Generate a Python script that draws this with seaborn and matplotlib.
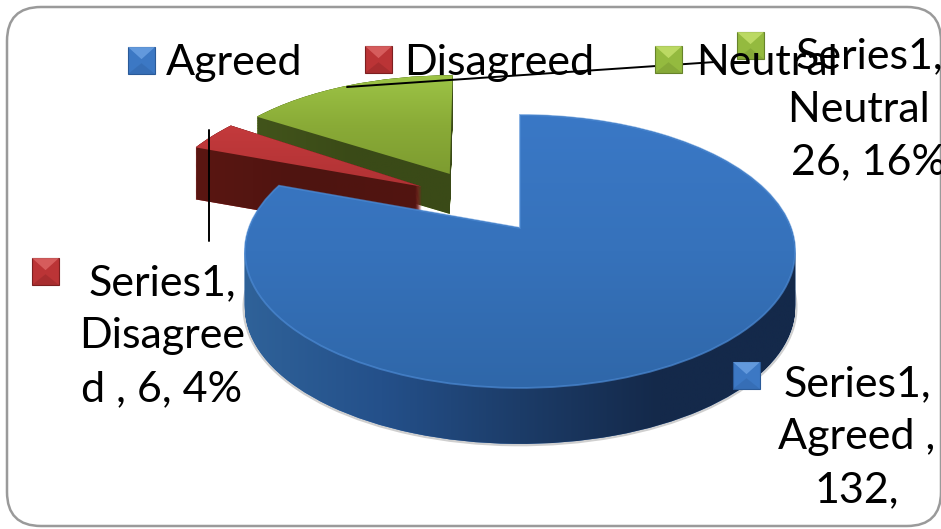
import numpy as np
import matplotlib
matplotlib.use("Agg")
import matplotlib.pyplot as plt
import seaborn as sns
from matplotlib.path import Path
from matplotlib.patches import FancyBboxPatch, Rectangle, Polygon, PathPatch
from matplotlib.transforms import Transform
from matplotlib.colors import LinearSegmentedColormap

categories = ["Agreed", "Disagreed", "Neutral"]
values = [132, 6, 26]
explode = [0.0, 0.52, 0.50]
label_blue = "Series1,\nAgreed ,\n132,"
label_red = "Series1,\nDisagree\nd , 6, 4%"
label_green = "Series1,\nNeutral ,\n26, 16%"

palette = ["#3872bd", "#bb3436", "#94ba3f"]

sns.set_theme(style="white")
plt.rcParams["font.family"] = ["Lato", "DejaVu Sans"]

W, H = 941, 529
fig = plt.figure(figsize=(W / 100, H / 100), dpi=100)
ax = fig.add_axes([0, 0, 1, 1])


class Projection(Transform):
    input_dims = 2
    output_dims = 2
    is_separable = False
    has_inverse = False

    def __init__(self, drop=0.0, dx=0.0, dy=0.0, shear=0.0):
        super().__init__()
        self.drop, self.dx, self.dy, self.shear = drop, dx, dy, shear

    def transform_non_affine(self, xy):
        xy = np.asarray(xy, float)
        w = 1 + 0.172 * xy[:, 1]
        Y = 228 - 132.4 * xy[:, 1] / w
        X = 520 + 271 * xy[:, 0] / w + self.dx + self.shear * (Y - 175)
        return np.column_stack([X, Y + self.dy + self.drop])


def pie_layer(colors):
    wedges, _ = ax.pie(values, explode=explode, startangle=90, counterclock=False,
                       colors=colors, radius=1, wedgeprops=dict(linewidth=0))
    return wedges


def gradient(path, stops, horizontal, zorder):
    cmap = LinearSegmentedColormap.from_list("g", stops)
    v = path.vertices
    l, r, t, b = v[:, 0].min(), v[:, 0].max(), v[:, 1].min(), v[:, 1].max()
    g = np.linspace(0, 1, 256)
    arr = g[None, :] if horizontal else g[:, None]
    im = ax.imshow(arr, cmap=cmap, extent=(l, r, b, t), origin="upper", aspect="auto", zorder=zorder,
                   interpolation="bilinear")
    im.set_clip_path(path, ax.transData)


depths = [56, 52, 40]
nudges = [dict(), dict(dx=23, dy=-12), dict(dx=-10, shear=0.055)]
side_stops = [["#2f6299", "#24508a", "#1c3c68", "#14294a", "#14294a"],
              ["#5a1612", "#4e1410", "#521510"],
              ["#42541b", "#3a4a17", "#3a4a18"]]
top_stops = [["#3a78c6", "#3672bb", "#2f67a9"],
             ["#c43a3c", "#b03234"],
             ["#9dc446", "#8aab37", "#7d9c30"]]
order_z = {2: 2, 1: 4, 0: 6}

side_paths = [[], [], []]
for f in np.linspace(1, 0, 57):
    wedges = pie_layer(palette)
    for i, w in enumerate(wedges):
        T = Projection(depths[i] * f, **nudges[i])
        w.set_transform(T + ax.transData)
        w.set_zorder(order_z[i])
        side_paths[i].append(T.transform_path(w.get_path()))

for i in range(3):
    compound = Path.make_compound_path(*side_paths[i])
    gradient(compound, side_stops[i], True, order_z[i] + 0.2)
    gradient(side_paths[i][-1], top_stops[i], False, order_z[i] + 0.5)

# soft shadow under the blue slice (outer arc only), light rim on its top face
shadow = PathPatch(side_paths[0][0], fc="none", ec="#777777", lw=3.5, alpha=0.35, zorder=5.8)
ax.add_patch(shadow)
shadow.set_clip_path(Rectangle((0, 290), W, H - 290, transform=ax.transData))
ax.add_patch(PathPatch(side_paths[0][-1], fc="none", ec="#4c8ad4", lw=1.3, alpha=0.7, zorder=6.7))


def swatch(x, y, c, hi, lo, s=27):
    ax.add_patch(Rectangle((x, y), s, s, fc=c, ec=lo, lw=0.8, zorder=9))
    ax.add_patch(Polygon([(x, y), (x + s, y), (x + s * .5, y + s * .45)], fc=hi, alpha=.75, lw=0, zorder=9.1))
    ax.add_patch(Polygon([(x, y + s), (x + s, y + s), (x + s * .5, y + s * .6)], fc=lo, alpha=.3, lw=0, zorder=9.1))


sw = [("#3c78c4", "#6fa5e6", "#2a5a98"), ("#bb3436", "#e06a6a", "#7d1f20"), ("#94ba3f", "#c9e470", "#66832a")]
for (x, y), s_ in zip([(128, 47), (365, 46), (655, 46)], sw):
    swatch(x, y, *s_)
swatch(733, 362, *sw[0])
swatch(32, 258, *sw[1])
swatch(737, 32, *sw[2])

fs = 31
for x, t in zip([166, 404, 696], categories):
    ax.text(x, 63, t, fontsize=fs, color="black", va="center", ha="left", zorder=10)

for (x, y), t in zip([(857, 437), (162, 336), (869, 109)], [label_blue, label_red, label_green]):
    ax.text(x, y, t, fontsize=fs, color="black", va="center", ha="center", multialignment="center",
            linespacing=1.48, zorder=10)

ax.plot([347, 715], [87, 62], color="black", lw=1.4, zorder=8.5)
ax.plot([209, 209], [130, 241], color="black", lw=1.4, zorder=8.5)

ax.add_patch(FancyBboxPatch((7, 7), 934, 519, boxstyle="round,pad=0,rounding_size=34",
                            fc="none", ec="#9a9a9a", lw=1.8, zorder=1))

ax.set_aspect("auto")
ax.set_xlim(0, W)
ax.set_ylim(H, 0)
ax.axis("off")
fig.savefig("out.png", dpi=100, facecolor="white")
